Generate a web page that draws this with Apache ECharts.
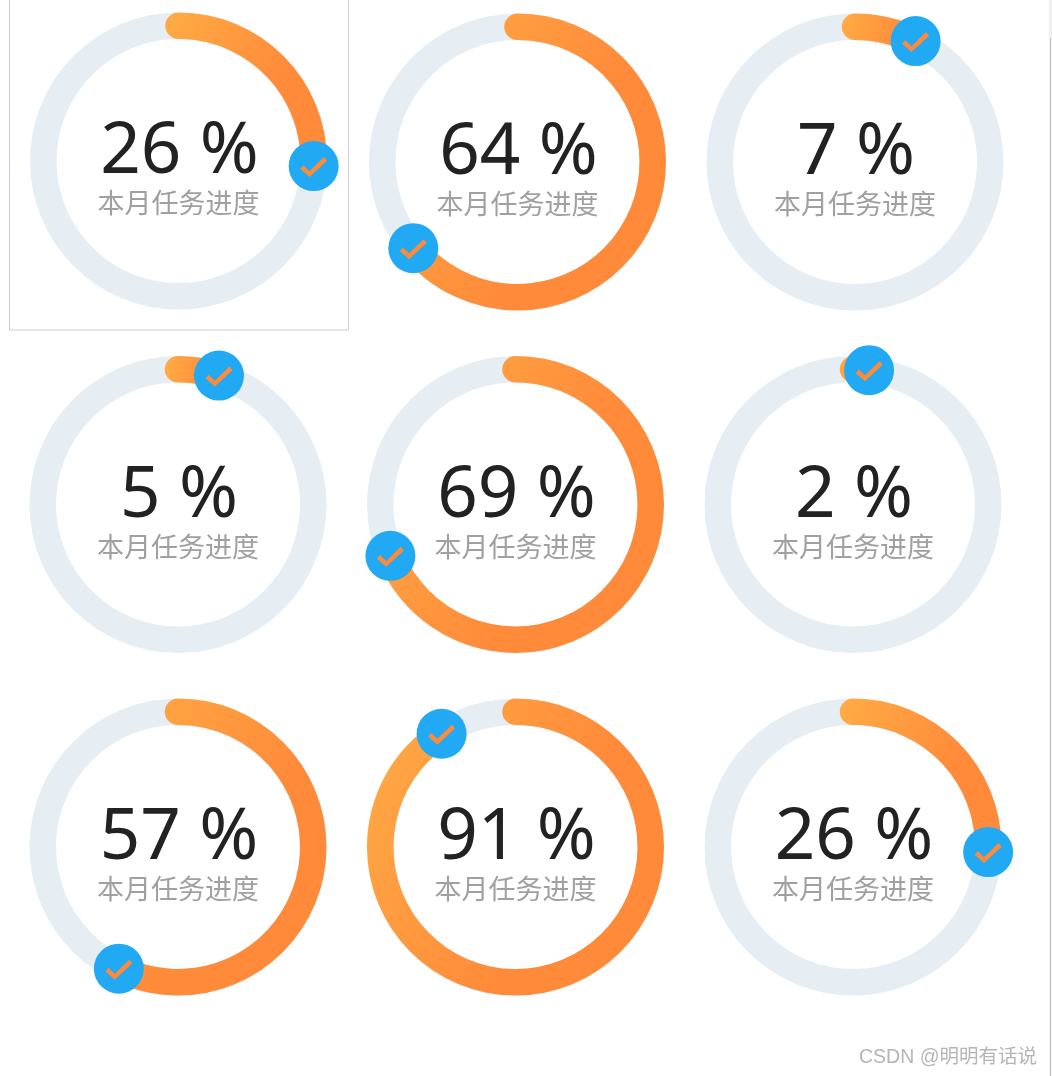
<!DOCTYPE html>
<html>
<head>
<meta charset="utf-8">
<title>本月任务进度</title>
<style>
html, body { margin: 0; padding: 0; background: #fff; }
#main { width: 1052px; height: 1076px; }
</style>
<script src="https://cdn.jsdelivr.net/npm/echarts@6/dist/echarts.min.js"></script>
</head>
<body>
<div id="main"></div>
<script>
var progressValues = [25.6, 64, 7.4, 4.9, 68.8, 1.9, 57.2, 90.8, 25.6];
var percentLabels = ['26 %', '64 %', '7 %', '5 %', '69 %', '2 %', '57 %', '91 %', '26 %'];
var subLabels = ['本月任务进度', '本月任务进度', '本月任务进度', '本月任务进度', '本月任务进度', '本月任务进度', '本月任务进度', '本月任务进度', '本月任务进度'];
var ringCategories = ['进度'];

var centerX = [178.5, 517.5, 855, 178, 515.5, 853, 178, 515.5, 853];
var centerY = [161, 162, 162, 504.5, 504.5, 504.5, 847, 847, 847];

var checkPath = 'path://M0 10 L3 7 L9 12 L23 0 L26 3 L9 17 Z';

var polar = [], angleAxis = [], radiusAxis = [], series = [], title = [];

for (var i = 0; i < progressValues.length; i++) {
	polar.push({ center: [centerX[i], centerY[i]], radius: [122, 148.5] });
	angleAxis.push({ polarIndex: i, type: 'value', min: 0, max: 100, startAngle: 90, clockwise: true, show: false });
	radiusAxis.push({ polarIndex: i, type: 'category', data: ringCategories, show: false });

	//进度圆环
	series.push({
		type: 'bar',
		coordinateSystem: 'polar',
		polarIndex: i,
		data: [progressValues[i]],
		barWidth: 27,
		roundCap: true,
		showBackground: true,
		backgroundStyle: { color: '#e6eef4' },
		silent: true,
		itemStyle: {
			color: {
				type: 'linear', x: 0, y: 0, x2: 1, y2: 0.5,
				colorStops: [{ offset: 0, color: '#ffac45' }, { offset: 0.75, color: '#ff8a3a' }, { offset: 1, color: '#ff8a3a' }]
			}
		},
		z: 2
	});

	//蓝色圆点
	series.push({
		type: 'scatter',
		coordinateSystem: 'polar',
		polarIndex: i,
		data: [[0, progressValues[i]]],
		symbol: 'circle',
		symbolSize: 50,
		silent: true,
		itemStyle: { color: '#22a9f3', opacity: 1 },
		z: 3
	});

	//对勾
	series.push({
		type: 'scatter',
		coordinateSystem: 'polar',
		polarIndex: i,
		data: [[0, progressValues[i]]],
		symbol: checkPath,
		symbolSize: [27, 20],
		symbolOffset: [0, 1],
		silent: true,
		itemStyle: { color: '#ff8a3a', opacity: 1 },
		z: 4
	});

	title.push({
		text: percentLabels[i],
		left: centerX[i] - 4,
		top: centerY[i] - 13,
		textAlign: 'center',
		textVerticalAlign: 'middle',
		textStyle: { fontFamily: 'Noto Sans', fontSize: 71, fontWeight: 400, color: '#222222' }
	});
	title.push({
		text: subLabels[i],
		left: centerX[i] - 5,
		top: centerY[i] + 37,
		textAlign: 'center',
		textVerticalAlign: 'middle',
		textStyle: { fontFamily: 'Noto Sans CJK SC', fontSize: 27, fontWeight: 400, color: '#a0a0a0' }
	});
}

title.push({
	text: 'CSDN @明明有话说',
	right: 10,
	top: 1043,
	textStyle: { fontFamily: 'Liberation Sans, Noto Sans CJK SC', fontSize: 19.5, fontWeight: 400, color: '#b5b5b5' }
});

var option = {
	animation: false,
	backgroundColor: '#ffffff',
	title: title,
	polar: polar,
	angleAxis: angleAxis,
	radiusAxis: radiusAxis,
	series: series,
	graphic: [
		{ type: 'rect', silent: true, shape: { x: 9.5, y: -2, width: 339, height: 332 }, style: { fill: 'none', stroke: '#cccccc', lineWidth: 1 } },
		{ type: 'rect', silent: true, shape: { x: 1049, y: 0, width: 3, height: 1076 }, style: { fill: '#f0f0f0' } },
		{ type: 'rect', silent: true, shape: { x: 1050, y: 38, width: 1, height: 1038 }, style: { fill: '#c4c4c4' } }
	]
};

var chart = echarts.init(document.getElementById('main'));
chart.setOption(option);
</script>
</body>
</html>
